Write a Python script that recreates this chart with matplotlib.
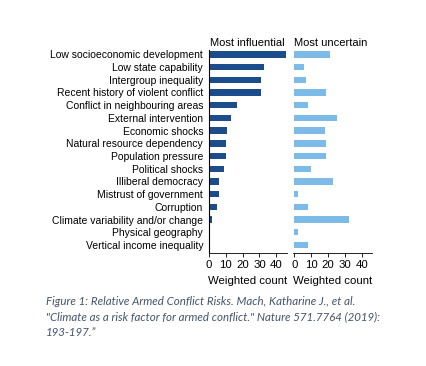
import matplotlib
matplotlib.use('Agg')
import matplotlib.pyplot as plt

plt.rcParams['font.family'] = ['Liberation Sans', 'DejaVu Sans']

# risk factors, top to bottom
factors = ['Low socioeconomic development', 'Low state capability', 'Intergroup inequality',
           'Recent history of violent conflict', 'Conflict in neighbouring areas',
           'External intervention', 'Economic shocks', 'Natural resource dependency',
           'Population pressure', 'Political shocks', 'Illiberal democracy',
           'Mistrust of government', 'Corruption', 'Climate variability and/or change',
           'Physical geography', 'Vertical income inequality']
influential = [46, 33, 31, 31, 17, 13, 11, 10, 10, 9, 6, 6, 5, 2, 1, 0]
uncertain = [21, 6, 7, 19, 8, 25, 18, 19, 19, 10, 23, 2.5, 8, 32, 2.5, 8]
ticks = [0, 10, 20, 30, 40]

dark = '#1b4d8c'
light = '#7cbbe8'

fig = plt.figure(figsize=(4.27, 3.66), dpi=100)
ax1 = fig.add_axes([0.4888, 0.3087, 0.184, 0.5546])
ax2 = fig.add_axes([0.6855, 0.3087, 0.1864, 0.5546])

y = range(len(factors))
ax1.barh(y, influential, height=0.5, color=dark)
ax2.barh(y, uncertain, height=0.5, color=light)

for ax, title in [(ax1, 'Most influential'), (ax2, 'Most uncertain')]:
    ax.set_ylim(15.63, -0.34)
    ax.set_xticks(ticks)
    ax.set_xticklabels([str(t) for t in ticks], fontsize=8.2)
    ax.set_xlabel('Weighted count', fontsize=8.2, labelpad=4)
    ax.spines['top'].set_visible(False)
    ax.spines['right'].set_visible(False)
    ax.tick_params(axis='x', length=3, width=0.6, pad=2)
    ax.spines['bottom'].set_linewidth(0.6)
    ax.set_title(title, fontsize=8, loc='left', pad=3, x=0.02)

ax1.set_xlim(0, 46.5)
ax2.set_xlim(-0.9, 46)
ax1.spines['left'].set_linewidth(0.8)
ax1.set_yticks(list(y))
ax1.set_yticklabels(factors, fontsize=7.5)
ax1.tick_params(axis='y', length=0, pad=4)
ax2.spines['left'].set_visible(False)
ax2.set_yticks([])

caption = ('Figure 1: Relative Armed Conflict Risks. Mach, Katharine J., et al.\n'
           '"Climate as a risk factor for armed conflict." Nature 571.7764 (2019):\n'
           '193-197.\u201d')
fig.text(0.108, 0.19, caption, fontsize=8.3, style='italic', color='#44546a',
         family=['Lato', 'DejaVu Sans'], va='top', linespacing=1.45)

fig.savefig('out.png', dpi=100)
